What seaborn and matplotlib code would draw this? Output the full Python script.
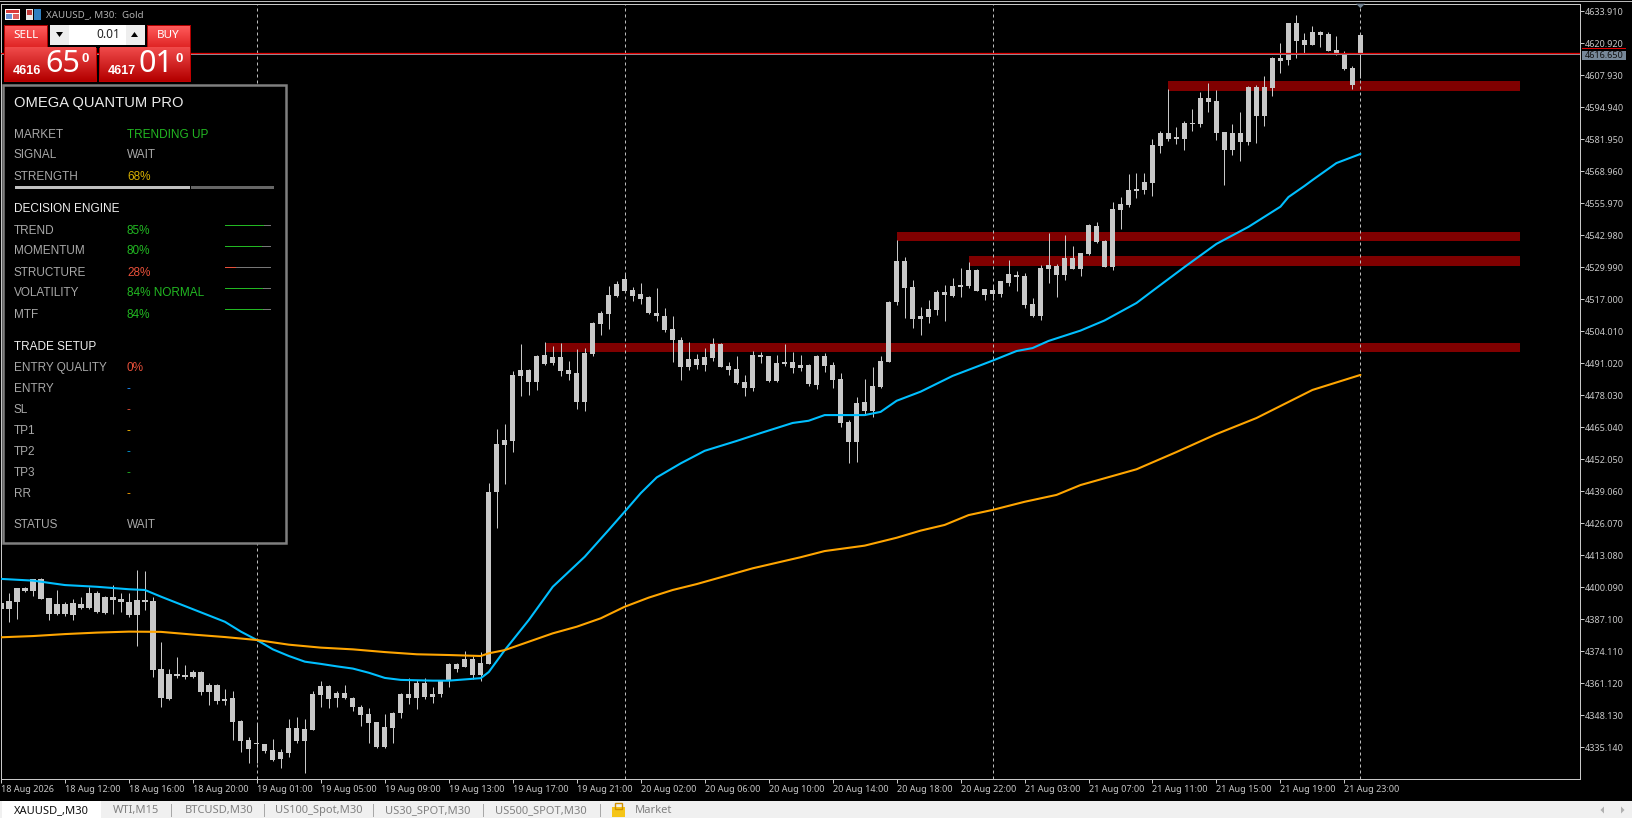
import numpy as np
import pandas as pd
import seaborn as sns
import matplotlib
matplotlib.use("Agg")
import matplotlib.pyplot as plt
from matplotlib.patches import Rectangle, Polygon

# ---------- data (prices) ----------
body_top = [
 4393.6,4394.5,4399.7,4399.8,4403.3,4403.5,4395.9,4393.2,4393.2,4393.6,
 4393.2,4397.8,4397.6,4396.2,4396.0,4395.2,4394.1,4394.8,4394.8,4394.5,
 4366.8,4364.9,4364.9,4364.4,4365.6,4365.7,4360.4,4360.4,4354.8,4355.0,
 4345.7,4338.0,4336.8,4336.3,4333.9,4333.2,4342.8,4342.8,4342.4,4356.8,
 4359.9,4360.0,4357.1,4357.1,4355.0,4351.5,4348.7,4345.3,4343.3,4349.2,
 4356.8,4356.6,4361.1,4361.1,4356.6,4362.1,4368.8,4368.8,4370.9,4370.9,
 4369.2,4438.8,4458.3,4459.9,4486.3,4488.3,4488.3,4494.0,4494.4,4493.6,
 4493.6,4488.3,4487.1,4495.2,4507.4,4511.5,4518.8,4523.2,4525.3,4520.8,
 4519.2,4517.9,4511.5,4510.2,4505.0,4500.5,4492.8,4492.8,4493.6,4498.9,
 4498.9,4489.9,4488.7,4483.4,4494.4,4494.4,4494.0,4491.2,4491.6,4491.6,
 4490.3,4490.3,4494.0,4494.0,4490.3,4484.7,4467.2,4474.9,4475.3,4481.8,
 4492.0,4515.9,4532.6,4532.6,4522.0,4510.2,4513.1,4520.0,4520.0,4522.4,
 4522.8,4528.9,4528.9,4521.2,4520.8,4524.4,4527.3,4526.9,4526.5,4515.1,
 4529.7,4530.9,4530.5,4533.8,4533.8,4535.8,4547.2,4546.8,4540.7,4553.7,
 4555.7,4561.4,4561.8,4564.6,4579.6,4584.5,4584.5,4582.9,4588.6,4588.6,
 4598.7,4598.7,4597.5,4584.9,4584.5,4584.5,4603.2,4603.2,4603.2,4615.0,
 4615.0,4629.2,4629.2,4622.3,4625.5,4625.5,4624.7,4618.2,4617.0,4610.9,
 4624.3]
body_bottom = [
 4391.4,4391.4,4394.3,4398.7,4398.7,4395.5,4389.4,4389.3,4389.3,4389.0,
 4391.8,4391.8,4390.2,4389.8,4395.1,4394.3,4389.0,4389.0,4394.3,4366.7,
 4355.0,4354.9,4364.0,4363.7,4363.8,4357.6,4357.7,4354.1,4354.1,4345.6,
 4337.7,4334.6,4336.3,4333.8,4330.0,4330.3,4333.0,4337.7,4337.8,4342.3,
 4356.5,4354.9,4355.0,4355.0,4351.4,4348.4,4345.1,4335.4,4335.4,4343.1,
 4349.2,4355.0,4355.0,4355.7,4355.4,4356.6,4362.1,4366.9,4367.6,4364.5,
 4364.5,4369.0,4438.8,4457.9,4459.5,4485.9,4483.4,4483.4,4490.7,4491.2,
 4487.9,4486.7,4475.3,4475.3,4494.8,4507.0,4511.0,4518.4,4520.4,4518.4,
 4517.1,4511.5,4510.2,4504.5,4500.5,4489.5,4489.5,4490.3,4490.3,4493.2,
 4489.5,4488.3,4483.0,4481.0,4481.0,4493.6,4483.8,4483.8,4490.7,4489.1,
 4489.1,4482.6,4482.2,4489.9,4484.3,4466.8,4459.1,4459.1,4471.7,4471.7,
 4481.4,4491.6,4515.9,4521.6,4509.0,4509.0,4509.8,4512.7,4518.8,4518.3,
 4522.0,4522.4,4520.4,4518.8,4519.2,4519.2,4523.6,4526.1,4514.7,4510.2,
 4510.2,4529.3,4526.9,4526.9,4529.3,4529.3,4535.4,4540.3,4530.3,4530.3,
 4553.3,4555.3,4561.0,4561.4,4564.2,4579.2,4582.1,4582.1,4582.1,4588.2,
 4588.2,4597.1,4584.5,4577.6,4577.6,4580.9,4580.9,4591.4,4591.4,4602.8,
 4613.7,4614.1,4621.9,4620.2,4620.2,4624.3,4617.8,4616.6,4610.5,4604.0,
 4616.6]
wick_high = [
 4394.3,4397.9,4399.7,4400.1,4403.3,4403.7,4395.9,4399.0,4394.3,4395.2,
 4396.3,4400.1,4398.7,4396.6,4401.0,4397.6,4397.6,4407.1,4406.7,4396.3,
 4377.8,4366.8,4371.7,4368.6,4366.5,4366.3,4361.1,4360.7,4358.7,4358.0,
 4346.2,4339.5,4344.9,4336.3,4338.4,4334.3,4346.6,4347.3,4346.6,4358.0,
 4362.1,4360.4,4358.1,4360.4,4355.4,4352.3,4351.1,4345.3,4348.7,4349.5,
 4357.1,4363.1,4362.5,4363.1,4359.8,4362.1,4369.2,4369.2,4374.1,4372.2,
 4373.8,4442.3,4464.4,4466.4,4487.9,4498.9,4488.7,4494.4,4499.7,4498.1,
 4499.3,4492.0,4496.8,4497.2,4507.8,4512.3,4522.4,4524.4,4527.7,4522.0,
 4523.6,4518.4,4521.6,4513.5,4510.2,4501.7,4499.7,4494.8,4497.2,4501.3,
 4499.3,4491.6,4494.0,4486.3,4496.0,4495.6,4494.0,4494.4,4498.9,4495.6,
 4494.4,4490.7,4494.4,4495.2,4491.6,4487.1,4468.0,4477.4,4484.7,4489.5,
 4494.0,4516.3,4541.1,4534.2,4524.8,4513.9,4516.7,4520.8,4522.8,4525.7,
 4529.7,4532.1,4529.3,4521.2,4522.8,4524.4,4533.0,4528.5,4527.7,4517.5,
 4530.9,4543.9,4531.3,4543.1,4538.6,4535.8,4547.6,4548.4,4541.1,4556.5,
 4558.5,4567.9,4568.3,4568.3,4582.1,4585.3,4602.4,4587.0,4589.4,4594.3,
 4601.2,4604.8,4602.0,4584.9,4588.2,4593.0,4603.6,4604.0,4607.7,4615.4,
 4621.1,4629.2,4632.4,4625.1,4628.0,4625.9,4625.5,4623.9,4617.8,4611.7,
 4624.7]
wick_low = [
 4388.2,4386.1,4387.2,4398.3,4396.6,4395.5,4386.8,4388.8,4388.4,4386.8,
 4391.1,4391.1,4389.5,4389.3,4389.3,4390.2,4388.2,4376.4,4390.9,4363.8,
 4351.6,4354.3,4363.3,4362.9,4363.1,4356.5,4352.3,4352.7,4352.5,4338.1,
 4333.4,4328.9,4328.6,4332.7,4329.7,4326.9,4331.3,4337.0,4324.6,4342.2,
 4351.6,4351.2,4351.6,4354.8,4349.9,4343.9,4336.8,4335.0,4335.0,4337.0,
 4347.2,4352.7,4350.8,4354.8,4353.3,4355.4,4359.5,4365.8,4367.6,4362.7,
 4362.2,4369.0,4424.2,4442.0,4455.0,4477.8,4478.2,4480.2,4490.3,4490.3,
 4485.9,4484.3,4472.5,4471.7,4494.0,4502.5,4505.0,4517.9,4520.4,4516.3,
 4515.1,4511.0,4508.2,4503.7,4491.6,4484.3,4488.3,4488.7,4487.9,4492.0,
 4489.5,4486.3,4482.6,4477.8,4479.8,4491.2,4483.4,4483.4,4489.9,4487.1,
 4487.9,4481.8,4480.6,4487.5,4481.0,4465.2,4450.6,4451.0,4470.0,4469.2,
 4481.0,4491.6,4514.7,4509.4,4505.4,4502.5,4507.4,4510.6,4508.2,4517.9,
 4517.9,4521.6,4520.4,4516.7,4516.7,4517.9,4522.4,4520.4,4513.5,4509.8,
 4508.6,4523.6,4517.9,4524.8,4529.3,4526.5,4535.0,4539.9,4530.3,4528.9,
 4545.6,4554.5,4558.1,4559.8,4558.9,4576.4,4581.3,4580.1,4577.6,4585.3,
 4587.0,4593.0,4581.7,4563.4,4575.6,4573.2,4579.6,4580.5,4587.4,4599.5,
 4608.9,4612.1,4615.0,4616.6,4620.2,4619.4,4617.8,4616.2,4610.1,4602.4,
 4606.7]

ema_fast_idx = [0,4,8,12,16,18,20,24,28,30,32,34,36,38,40,42,44,46,48,50,54,56,60,61,63,66,69,71,73,76,78,80,82,85,88,92,95,99,101,103,108,110,112,115,119,124,127,129,131,135,138,142,144,148,152,156,158,160,161,163,164,167,170]
ema_fast = [4403.5,4402.8,4401.0,4400.3,4399.3,4399.0,4396.3,4391.2,4386.1,4382.1,4378.7,4374.9,4372.2,4369.9,4369.0,4368.0,4367.1,4365.4,4363.3,4362.5,4362.2,4362.2,4363.2,4365.7,4374.6,4386.8,4400.3,4406.4,4412.5,4423.4,4430.8,4438.3,4444.7,4450.4,4455.5,4459.5,4462.7,4466.8,4467.7,4470.0,4470.0,4471.3,4475.8,4479.5,4485.9,4492.1,4496.0,4497.2,4500.1,4504.3,4508.4,4515.5,4520.4,4530.1,4539.5,4546.4,4550.5,4554.6,4558.5,4563.0,4565.4,4572.3,4576.0]
ema_slow_idx = [0,4,8,12,16,20,24,28,32,36,40,44,48,52,56,60,61,63,66,69,72,75,78,81,84,87,94,100,103,108,112,115,118,121,124,128,132,135,142,147,152,157,164,170]
ema_slow = [4379.8,4380.3,4381.1,4381.7,4382.1,4382.0,4380.9,4379.9,4378.7,4376.8,4375.6,4374.9,4373.8,4372.9,4372.6,4372.2,4373.3,4374.6,4378.0,4381.4,4384.1,4387.5,4392.2,4395.9,4399.0,4401.4,4407.8,4412.3,4414.8,4417.0,4420.2,4423.1,4425.4,4429.4,4431.5,4434.8,4437.6,4441.6,4448.0,4455.0,4462.3,4468.8,4480.2,4486.3]

band_start = [146,112,121,68]
band_top = [4605.6,4544.3,4534.6,4499.3]
band_bottom = [4601.6,4540.7,4530.6,4495.6]
band_end = 190

session_lines = [32,78,124,170]
x_tick_idx = list(range(0,169,8))
x_tick_labels = ["18 Aug 2026","18 Aug 12:00","18 Aug 16:00","18 Aug 20:00","19 Aug 01:00","19 Aug 05:00",
 "19 Aug 09:00","19 Aug 13:00","19 Aug 17:00","19 Aug 21:00","20 Aug 02:00","20 Aug 06:00","20 Aug 10:00",
 "20 Aug 14:00","20 Aug 18:00","20 Aug 22:00","21 Aug 03:00","21 Aug 07:00","21 Aug 11:00","21 Aug 15:00",
 "21 Aug 19:00","21 Aug 23:00"]
y_tick_labels = ["4633.910","4620.920","4607.930","4594.940","4581.950","4568.960","4555.970","4542.980",
 "4529.990","4517.000","4504.010","4491.020","4478.030","4465.040","4452.050","4439.060","4426.070","4413.080",
 "4400.090","4387.100","4374.110","4361.120","4348.130","4335.140"]
bid_price = 4616.65
ask_price = 4617.01

# ---------- figure ----------
sns.set_theme(style="dark", rc={"axes.facecolor": "black", "figure.facecolor": "black"})
W, H = 1633, 818
fig = plt.figure(figsize=(W/100, H/100), dpi=100, facecolor="black")
ax = fig.add_axes([1/W, 1-779.3/H, (1580-1)/W, (779.3-3.5)/H])
ax.set_facecolor("black")
ax.set_xlim((1-0.3)/8, (1580-0.3)/8)
ax.set_ylim(4322.15, 4637.08)

GREY = "#c8c8c8"
idx = np.arange(len(body_top))
candles = pd.DataFrame({"i": idx, "top": body_top, "bottom": body_bottom, "high": wick_high, "low": wick_low})

for s, t, b in zip(band_start, band_top, band_bottom):
    ax.barh((t+b)/2, band_end-s, height=t-b, left=s, color="#800000", linewidth=0, zorder=1)
for s in session_lines:
    ax.axvline(s, color="#bcbcbc", lw=0.72, dashes=(3, 3), zorder=2)
ax.vlines(candles["i"], candles["low"], candles["high"], color=GREY, lw=0.72, zorder=3)
ax.bar(candles["i"], candles["top"]-candles["bottom"], bottom=candles["bottom"], width=0.65,
       color=GREY, linewidth=0, zorder=3, antialiased=False)

sns.lineplot(x=ema_fast_idx, y=ema_fast, ax=ax, color="#00bfff", lw=1.5, zorder=4, legend=False, estimator=None)
sns.lineplot(x=ema_slow_idx, y=ema_slow, ax=ax, color="#ffa500", lw=1.5, zorder=4, legend=False, estimator=None)
ax.axhline(bid_price, color="#8a96a3", lw=0.72, zorder=5)
ax.axhline(ask_price, color="#e00000", lw=0.9, zorder=6)

ax.set_xlabel(""); ax.set_ylabel("")
ax.grid(False)
for sp in ax.spines.values():
    sp.set_color(GREY); sp.set_linewidth(0.72); sp.set_visible(True)
TICKFONT = "Noto Sans"
ax.yaxis.tick_right()
ax.set_yticks([float(v) for v in y_tick_labels])
ax.set_yticklabels(y_tick_labels, fontsize=6.5, color=GREY, family=TICKFONT)
ax.set_xticks(x_tick_idx)
ax.set_xticklabels(x_tick_labels, fontsize=6.5, color=GREY, family=TICKFONT, ha="left")
ax.tick_params(axis="y", length=3, width=0.72, color=GREY, pad=0.6, right=True, left=False)
ax.tick_params(axis="x", length=3, width=0.72, color=GREY, pad=0.8, bottom=True)

# ---------- terminal chrome in pixel coordinates ----------
ui = fig.add_axes([0, 0, 1, 1], zorder=10)
ui.set_xlim(0, W); ui.set_ylim(H, 0); ui.axis("off"); ui.patch.set_alpha(0)

def rect(x0, y0, x1, y1, fc, ec="none", lw=0, z=1):
    ui.add_patch(Rectangle((x0, y0), x1-x0, y1-y0, fc=fc, ec=ec, lw=lw, zorder=z))

def tri(pts, fc, z=4):
    ui.add_patch(Polygon(pts, fc=fc, ec="none", lw=0, zorder=z))

def grad(x0, y0, x1, y1, c0, c1, z=2):
    c0 = np.array(matplotlib.colors.to_rgb(c0)); c1 = np.array(matplotlib.colors.to_rgb(c1))
    g = np.linspace(0, 1, 32)[:, None, None]*(c1-c0)+c0
    ui.imshow(g, extent=(x0, x1, y1, y0), aspect="auto", zorder=z, interpolation="bilinear")

def txt(x, y, s, c="#a9a9a9", fs=8.45, fam="Liberation Sans", ha="left", z=5, **kw):
    ui.text(x, y, s, color=c, fontsize=fs, family=fam, ha=ha, va="center", zorder=z, **kw)

# top edge
rect(0, 0.5, W, 2, "#b8b8b8")

# header icons + caption
rect(5, 9, 20, 20, "#ffffff"); rect(6, 10, 19, 13, "#d93a3a"); rect(6, 14, 12, 19, "#6a8fd0"); rect(13, 14, 19, 19, "#e06060")
rect(26, 9, 33, 20, "#e8e8e8"); rect(27, 10, 32, 15, "#c23b3b"); rect(34, 9, 41, 20, "#2f7fc1")
txt(46, 14.7, "XAUUSD_, M30:  Gold", c="#b0b0b0", fs=7.0, fam="Noto Sans")

# one-click panel
RED_T, RED_B = "#f04a4a", "#b40000"
rect(4, 25, 48, 47.5, "#b00000"); grad(5, 26, 47, 47, "#ff5b5b", "#e02525")
rect(8, 46.5, 44, 47, "#ffb0b0", z=3)
txt(26, 35, "SELL", c="#ffffff", fs=8.4, fam="Noto Sans", ha="center")
rect(147, 25, 191, 47.5, "#b00000"); grad(148, 26, 190, 47, "#ff5b5b", "#e02525")
rect(151, 46.5, 187, 47, "#ffb0b0", z=3)
txt(168, 35, "BUY", c="#ffffff", fs=8.4, fam="Noto Sans", ha="center")
rect(50, 25, 145, 45, "#ffffff", z=2)
rect(50, 25, 69, 45, "#eeeeee", z=3); rect(126, 25, 145, 45, "#eeeeee", z=3)
tri([(56, 32), (63, 32), (59.5, 37)], "black")
tri([(131, 37), (138, 37), (134.5, 32)], "black")
txt(120, 35, "0.01", c="#222222", fs=8.5, fam="Noto Sans", ha="right")
for x0, x1, a, b, bx, sx in [(4, 97, "4616", "65", 45, 82), (99, 191, "4617", "01", 139, 176)]:
    rect(x0, 47.5, x1, 82, "#c00000"); grad(x0+1, 48, x1-1, 81.5, RED_T, RED_B)
    txt(x0+9, 71.5, a, c="white", fs=9.1, weight="bold")
    txt(bx, 64.5, b, c="white", fs=22, fam="Noto Sans")
    txt(sx, 58.5, "0", c="white", fs=9.5, weight="bold")

# strategy panel
rect(3.5, 85, 286, 542.5, "black", ec="#7f7f7f", lw=1.8)
txt(14, 102.9, "OMEGA QUANTUM PRO", c="#eaeaea", fs=10.6)
GREEN, RED, GOLD = "#22b822", "#e8503a", "#d8b000"
rows = [("MARKET", 133.3, "TRENDING UP", GREEN), ("SIGNAL", 154.3, "WAIT", "#a9a9a9"), ("STRENGTH", 175.3, "68%", GOLD),
        ("TREND", 229.3, "85%", GREEN), ("MOMENTUM", 250.3, "80%", GREEN), ("STRUCTURE", 271.3, "28%", RED),
        ("VOLATILITY", 292.3, "84% NORMAL", GREEN), ("MTF", 313.7, "84%", GREEN),
        ("ENTRY QUALITY", 366.7, "0%", RED), ("ENTRY", 387.7, "-", "#1e90ff"), ("SL", 408.7, "-", RED),
        ("TP1", 429.7, "-", "#ffc000"), ("TP2", 450.7, "-", "#00a0e0"), ("TP3", 471.7, "-", "#22b822"),
        ("RR", 492.7, "-", "#ffa500"), ("STATUS", 523.7, "WAIT", "#a9a9a9")]
for lab, y, val, col in rows:
    txt(14, y+1.2, lab); txt(127, y+1.2, val, c=col)
txt(14, 209.5, "DECISION ENGINE", c="#f0f0f0")
txt(14, 346.5, "TRADE SETUP", c="#f0f0f0")
rect(15, 186, 190, 189, "#c0c0c0"); rect(191, 186, 274, 189, "#666666")
for y, xe, col in [(225.3, 264, GREEN), (246.3, 262, GREEN), (267.3, 236, RED), (288.3, 263.3, GREEN), (309.3, 263.3, GREEN)]:
    rect(225, y-0.5, xe, y+0.5, col, z=3); rect(xe, y-0.5, 271, y+0.5, "#777777", z=3)

# price marker
tri([(1356, 3.7), (1365, 3.7), (1360.5, 8.3)], "#708090", z=6)
rect(1582, 50.5, 1626, 60, "#778899", z=3); rect(1582, 48, 1626, 49, "#e00000", z=3)
txt(1604, 55.3, "4616.650", c="#111111", fs=6.5, fam=TICKFONT, ha="center")

# tab bar
rect(0, 800.7, W, H, "#f0f0f0")
rect(2.5, 800.5, 101, H, "#ffffff", z=2)
tabs = [("XAUUSD_,M30", 14, "#111111"), ("WTI,M15", 113, "#808080"), ("BTCUSD,M30", 185, "#808080"),
        ("US100_Spot,M30", 275.5, "#808080"), ("US30_SPOT,M30", 385, "#808080"), ("US500_SPOT,M30", 495, "#808080"),
        ("Market", 635, "#808080")]
for s, x, c in tabs:
    txt(x, 810.5, s, c=c, fs=8.0, fam="Noto Sans")
for x in [171, 264, 373.5, 483, 600]:
    rect(x, 804, x+0.8, 817, "#a8a8a8", z=3)
rect(612, 807, 625, 817, "#f5c518", z=3)
ui.add_patch(Rectangle((615, 802.5), 7, 6, fc="none", ec="#d09000", lw=1, zorder=3))
tri([(1604, 806.5), (1604, 813.5), (1600.5, 810)], "#b0b0b0")
tri([(1621, 806.5), (1621, 813.5), (1624.5, 810)], "#b0b0b0")

fig.savefig("out.png", dpi=100, facecolor="black")
